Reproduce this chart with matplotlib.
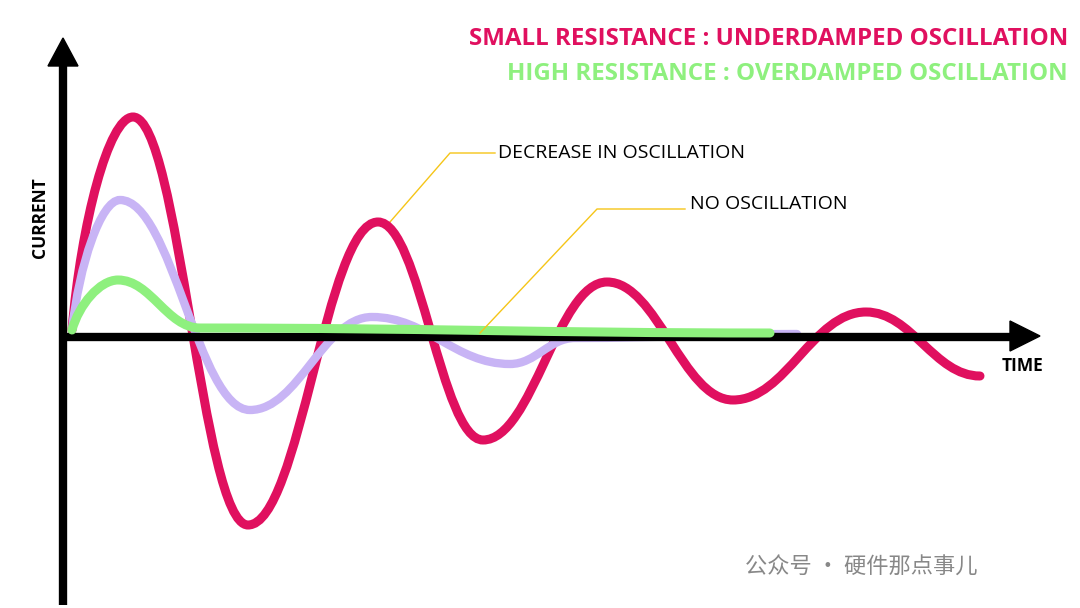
import matplotlib.pyplot as plt
from matplotlib.path import Path
from matplotlib.patches import PathPatch

# key points (x, y), in pixel units (y downwards)
red_x = [72, 133, 248, 378, 483, 607, 733, 866, 980]
red_y = [330, 117, 525, 222, 440, 282, 400, 312, 376]
purple_x = [72, 120, 250, 372, 510, 575, 797]
purple_y = [330, 200, 410, 317, 364, 338, 334]
green_x = [72, 118, 200, 770]
green_y = [330, 280, 328, 333]

RED = '#E0105F'
PURPLE = '#C8B4F5'
GREEN = '#8EF07E'
YELLOW = '#F5C518'


def smooth(ax, xs, ys, color, lw, z):
    verts = [(xs[0], ys[0])]
    codes = [Path.MOVETO]
    for i in range(1, len(xs)):
        x0, y0, x1, y1 = xs[i-1], ys[i-1], xs[i], ys[i]
        dx = x1 - x0
        if i == 1:
            c1 = (x0 + 0.15 * dx, y0 - 0.5 * (y0 - y1))
        else:
            c1 = (x0 + 0.4 * dx, y0)
        verts += [c1, (x1 - 0.4 * dx, y1), (x1, y1)]
        codes += [Path.CURVE4] * 3
    ax.add_patch(PathPatch(Path(verts, codes), fill=False, edgecolor=color,
                           lw=lw, capstyle='round', zorder=z))


fig = plt.figure(figsize=(10.8, 6.08), dpi=100)
ax = fig.add_axes([0, 0, 1, 1])
ax.set_xlim(0, 1080)
ax.set_ylim(608, 0)
ax.axis('off')

# axes arrows
ax.plot([63, 63], [605, 62], color='black', lw=6, solid_capstyle='butt', zorder=5)
ax.fill([48, 63, 78], [66, 38, 66], color='black', zorder=5)
ax.plot([63, 1015], [337, 337], color='black', lw=6, solid_capstyle='butt', zorder=5)
ax.fill([1010, 1040, 1010], [321, 336, 351], color='black', zorder=5)

smooth(ax, red_x, red_y, RED, 6.5, 3)
smooth(ax, purple_x, purple_y, PURPLE, 6, 4)
smooth(ax, green_x, green_y, GREEN, 6.5, 6)

font = 'Open Sans'
ax.text(40, 218, 'CURRENT', rotation=90, ha='center', va='center',
        fontsize=12.5, fontweight='bold', family=font)
ax.text(1022, 366, 'TIME', ha='center', va='center', fontsize=12.5,
        fontweight='bold', family=font)
ax.text(1068, 39, 'SMALL RESISTANCE : UNDERDAMPED OSCILLATION', ha='right',
        va='center', fontsize=17.4, fontweight='bold', color=RED, family=font)
ax.text(1068, 74, 'HIGH RESISTANCE : OVERDAMPED OSCILLATION', ha='right',
        va='center', fontsize=17.4, fontweight='bold', color=GREEN, family=font)

ax.plot([390, 450, 495], [222, 153, 153], color=YELLOW, lw=1, zorder=2)
ax.text(498, 153, 'DECREASE IN OSCILLATION', va='center', fontsize=14, family=font)
ax.plot([480, 597, 685], [333, 209, 209], color=YELLOW, lw=1, zorder=7)
ax.text(690, 204, 'NO OSCILLATION', va='center', fontsize=14, family=font)

ax.text(745, 567, '公众号 · 硬件那点事儿', va='center', fontsize=16, color='#888888',
        family=['Noto Sans CJK SC', 'DejaVu Sans'])

fig.savefig('out.png', dpi=100)
